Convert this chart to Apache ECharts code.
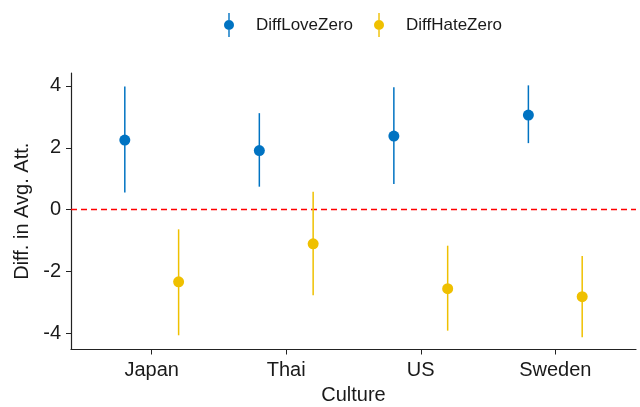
<!DOCTYPE html>
<html>
<head>
<meta charset="utf-8">
<script src="https://cdn.jsdelivr.net/npm/echarts@6/dist/echarts.min.js"></script>
<style>
  html, body { margin: 0; padding: 0; background: #fff; }
  #chart { width: 640px; height: 407px; }
</style>
</head>
<body>
<div id="chart"></div>
<script>
// data
const cultures = ['Japan', 'Thai', 'US', 'Sweden']
const loveMean = [2.25, 1.91, 2.38, 3.06]
const loveLow = [0.55, 0.74, 0.83, 2.15]
const loveHigh = [3.98, 3.12, 3.96, 4.02]
const hateMean = [-2.34, -1.11, -2.56, -2.82]
const hateLow = [-4.07, -2.77, -3.92, -4.13]
const hateHigh = [-0.64, 0.58, -1.17, -1.5]
const yTicks = [-4, -2, 0, 2, 4]
const refLine = 0

const blue = '#0073C2'
const yellow = '#EFC000'
const dodge = 0.2
const xMin = 0.4
const xMax = 4.6
const font = 'Liberation Sans, Arial, sans-serif'

// legend icon: dot with a vertical line through it
const icon = 'path://M4.3,0H5.7V24H4.3Z M10,12A5,5,0,1,1,0,12A5,5,0,1,1,10,12Z'

const pos = (i, side) => i + 1 + side * dodge

function points(mean, side) {
  return mean.map((v, i) => [pos(i, side), v])
}
function bars(low, high, side) {
  return low.map((v, i) => [pos(i, side), v, high[i]])
}

function renderBar(params, api) {
  const p1 = api.coord([api.value(0), api.value(1)])
  const p2 = api.coord([api.value(0), api.value(2)])
  return {
    type: 'line',
    shape: { x1: p1[0], y1: p1[1], x2: p2[0], y2: p2[1] },
    style: { stroke: api.visual('color'), lineWidth: 1.5 }
  }
}

const myChart = echarts.init(document.getElementById('chart'))

const option = {
  animation: false,
  textStyle: { fontFamily: font },
  legend: {
    top: 13,
    left: 224,
    padding: 0,
    itemWidth: 10,
    itemHeight: 24,
    itemGap: 21,
    textStyle: { fontSize: 17, color: '#1a1a1a', padding: [0, 0, 0, 17], fontFamily: font },
    data: [
      { name: 'DiffLoveZero', icon: icon, itemStyle: { color: blue } },
      { name: 'DiffHateZero', icon: icon, itemStyle: { color: yellow } }
    ]
  },
  grid: { left: 71, right: 4, top: 73, bottom: 57.5, outerBoundsMode: 'none' },
  xAxis: {
    type: 'value',
    min: xMin,
    max: xMax,
    name: 'Culture',
    nameLocation: 'middle',
    nameGap: 36,
    nameTextStyle: { fontSize: 20, color: '#1a1a1a', fontFamily: font },
    splitLine: { show: false },
    axisLine: { onZero: false, lineStyle: { color: '#222', width: 1.2 } },
    axisTick: { show: true, length: 5, customValues: [1, 2, 3, 4], lineStyle: { color: '#222' } },
    axisLabel: {
      fontSize: 20,
      color: '#1a1a1a',
      margin: 11,
      customValues: [1, 2, 3, 4],
      formatter: v => cultures[Math.round(v) - 1]
    }
  },
  yAxis: {
    type: 'value',
    min: -4.53,
    max: 4.42,
    name: 'Diff. in Avg. Att.',
    nameLocation: 'middle',
    nameGap: 33,
    nameTextStyle: { fontSize: 20, color: '#1a1a1a', fontFamily: font },
    splitLine: { show: false },
    axisLine: { show: true, onZero: false, lineStyle: { color: '#222', width: 1.2 } },
    axisTick: { show: true, length: 5, customValues: yTicks, lineStyle: { color: '#222' } },
    axisLabel: { fontSize: 20, color: '#1a1a1a', margin: 10, customValues: yTicks }
  },
  series: [
    {
      name: 'zero',
      type: 'line',
      silent: true,
      symbol: 'none',
      itemStyle: { color: '#FF0000' },
      lineStyle: { color: '#FF0000', type: [6, 4], width: 1.5 },
      emphasis: { disabled: true },
      data: [[xMin, refLine], [xMax, refLine]],
      z: 1
    },
    {
      name: 'DiffLoveZero',
      type: 'custom',
      renderItem: renderBar,
      itemStyle: { color: blue },
      encode: { x: 0, y: [1, 2] },
      data: bars(loveLow, loveHigh, -1),
      z: 2
    },
    {
      name: 'DiffHateZero',
      type: 'custom',
      renderItem: renderBar,
      itemStyle: { color: yellow },
      encode: { x: 0, y: [1, 2] },
      data: bars(hateLow, hateHigh, 1),
      z: 2
    },
    {
      name: 'DiffLoveZero',
      type: 'scatter',
      symbolSize: 11,
      itemStyle: { color: blue, opacity: 1 },
      data: points(loveMean, -1),
      z: 3
    },
    {
      name: 'DiffHateZero',
      type: 'scatter',
      symbolSize: 11,
      itemStyle: { color: yellow, opacity: 1 },
      data: points(hateMean, 1),
      z: 3
    }
  ]
}

myChart.setOption(option)
</script>
</body>
</html>
